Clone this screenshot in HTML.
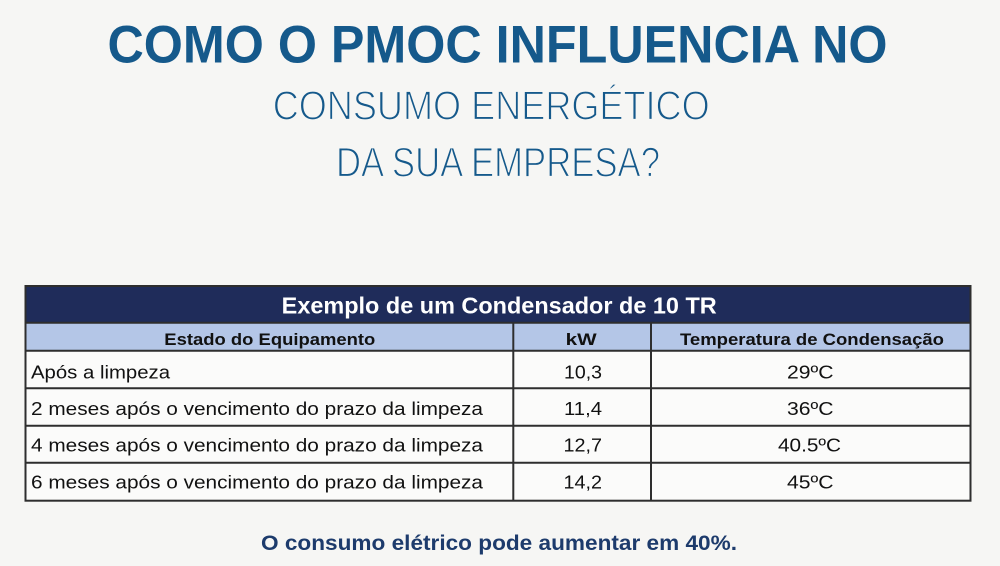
<!DOCTYPE html>
<html>
<head>
<meta charset="utf-8">
<style>
html,body{margin:0;padding:0;width:1000px;height:566px;overflow:hidden;background:#f6f6f4;}
svg{display:block;}
text{font-family:"Liberation Sans",Arial,sans-serif;}
</style>
</head>
<body>
<svg width="1000" height="566" viewBox="0 0 1000 566" xmlns="http://www.w3.org/2000/svg">
  <rect x="0" y="0" width="1000" height="566" fill="#f6f6f4"/>

  <!-- Heading -->
  <text x="107.5" y="62.7" font-size="52.6" font-weight="bold" fill="#15598b" textLength="780" lengthAdjust="spacingAndGlyphs">COMO O PMOC INFLUENCIA NO</text>
  <text x="272.7" y="119.3" font-size="41" fill="#15598b" stroke="#f6f6f4" stroke-width="1.3" textLength="437" lengthAdjust="spacingAndGlyphs">CONSUMO ENERGÉTICO</text>
  <text x="336" y="176.7" font-size="42" fill="#15598b" stroke="#f6f6f4" stroke-width="1.3" textLength="324" lengthAdjust="spacingAndGlyphs">DA SUA EMPRESA?</text>

  <!-- Table backgrounds -->
  <rect x="25.5" y="286" width="945" height="36.7" fill="#1f2c5a"/>
  <rect x="25.5" y="322.7" width="945" height="28" fill="#b4c6e7"/>
  <rect x="25.5" y="350.7" width="945" height="150" fill="#fbfbfa"/>

  <!-- Grid lines -->
  <g stroke="#2e2e2e" stroke-width="2" fill="none">
    <rect x="25.5" y="286" width="945" height="214.7"/>
    <line x1="25.5" y1="322.7" x2="970.5" y2="322.7"/>
    <line x1="25.5" y1="350.7" x2="970.5" y2="350.7"/>
    <line x1="25.5" y1="388.3" x2="970.5" y2="388.3"/>
    <line x1="25.5" y1="425.7" x2="970.5" y2="425.7"/>
    <line x1="25.5" y1="462.7" x2="970.5" y2="462.7"/>
    <line x1="513.3" y1="322.7" x2="513.3" y2="500.7"/>
    <line x1="651" y1="322.7" x2="651" y2="500.7"/>
  </g>

  <!-- Title row -->
  <text x="281.7" y="313.3" font-size="23" font-weight="bold" fill="#ffffff" textLength="435" lengthAdjust="spacingAndGlyphs">Exemplo de um Condensador de 10 TR</text>

  <!-- Header row -->
  <g font-size="17" font-weight="bold" fill="#111">
    <text x="164.3" y="345" textLength="211" lengthAdjust="spacingAndGlyphs">Estado do Equipamento</text>
    <text x="565.7" y="345" textLength="31" lengthAdjust="spacingAndGlyphs">kW</text>
    <text x="680" y="345" textLength="264" lengthAdjust="spacingAndGlyphs">Temperatura de Condensação</text>
  </g>

  <!-- Body rows -->
  <g font-size="18.6" fill="#111">
    <text x="31" y="378.3" textLength="139" lengthAdjust="spacingAndGlyphs">Após a limpeza</text>
    <text x="31" y="415" textLength="452" lengthAdjust="spacingAndGlyphs">2 meses após o vencimento do prazo da limpeza</text>
    <text x="31" y="451.7" textLength="452" lengthAdjust="spacingAndGlyphs">4 meses após o vencimento do prazo da limpeza</text>
    <text x="31" y="488.3" textLength="452" lengthAdjust="spacingAndGlyphs">6 meses após o vencimento do prazo da limpeza</text>

    <text x="564" y="378.3" textLength="38" lengthAdjust="spacingAndGlyphs">10,3</text>
    <text x="564" y="415" textLength="38" lengthAdjust="spacingAndGlyphs">11,4</text>
    <text x="563.5" y="451.7" textLength="38.5" lengthAdjust="spacingAndGlyphs">12,7</text>
    <text x="563.5" y="488.3" textLength="38.5" lengthAdjust="spacingAndGlyphs">14,2</text>

    <text x="787" y="378.3" textLength="46.5" lengthAdjust="spacingAndGlyphs">29ºC</text>
    <text x="787" y="415" textLength="46.5" lengthAdjust="spacingAndGlyphs">36ºC</text>
    <text x="778" y="451.7" textLength="63" lengthAdjust="spacingAndGlyphs">40.5ºC</text>
    <text x="787" y="488.3" textLength="46.5" lengthAdjust="spacingAndGlyphs">45ºC</text>
  </g>

  <!-- Footer -->
  <text x="261" y="550" font-size="21" font-weight="bold" fill="#1d3b6c" textLength="476" lengthAdjust="spacingAndGlyphs">O consumo elétrico pode aumentar em 40%.</text>
</svg>
</body>
</html>
